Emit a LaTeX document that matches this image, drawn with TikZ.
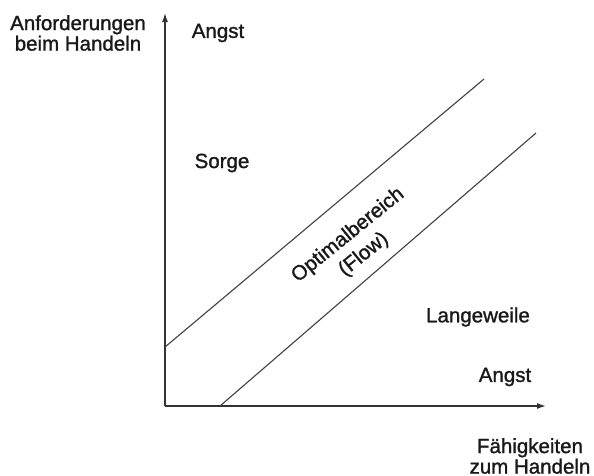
\documentclass[tikz,border=0pt]{standalone}
\usepackage{fontspec}
\setmainfont[AutoFakeBold=1.3]{Liberation Sans}
\usetikzlibrary{arrows.meta}
\begin{document}
\begin{tikzpicture}[x=1pt,y=-1pt,
  lbl/.style={font=\fontsize{20.5}{20.5}\selectfont\bfseries, text=black!90, inner sep=0pt, align=center},
  ln/.style={line width=1.1pt, draw=black!75},
  ax/.style={line width=1.3pt, draw=black!80, -{Latex[length=9pt,width=6pt]}}]
\useasboundingbox (0,0) rectangle (594,475);
\coordinate (O) at (165,406);
\coordinate (Ytop) at (165,13);
\coordinate (Xend) at (546,406);
\coordinate (a1) at (165,347);
\coordinate (a2) at (484,79);
\coordinate (b1) at (220,406);
\coordinate (b2) at (536,133);
\draw[ax] (O) -- (Ytop);
\draw[ax] (O) -- (Xend);
\draw[ln] (a1) -- (a2);
\draw[ln] (b1) -- (b2);
\node[lbl] (yl) at (78,33) {Anforderungen\\beim Handeln};
\node[lbl] (xl) at (530,456) {Fähigkeiten\\zum Handeln};
\node[lbl] (ang1) at (218,33) {Angst};
\node[lbl] (sorge) at (222,163) {Sorge};
\node[lbl] (lang) at (478,317) {Langeweile};
\node[lbl] (ang2) at (505,377) {Angst};
\node[lbl, rotate=39, font=\fontsize{20.5}{25}\selectfont\bfseries] (opt) at (356,245) {Optimalbereich\\(Flow)};
\end{tikzpicture}
\end{document}
